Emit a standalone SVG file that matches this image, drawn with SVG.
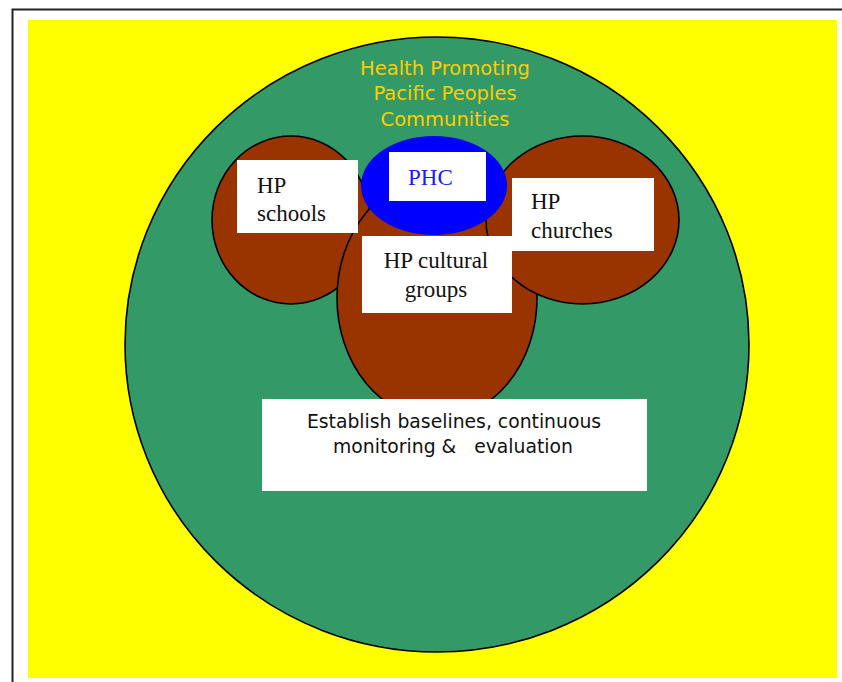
<svg xmlns="http://www.w3.org/2000/svg" width="842" height="682" viewBox="0 0 842 682">
<style>
.bub{fill:#993300;stroke:#000;stroke-width:1.6}
.box{fill:#fff}
.serif{font-family:"Liberation Serif","Times New Roman",serif;font-size:23px;fill:#111}
.sans{font-family:"DejaVu Sans",Verdana,sans-serif;font-size:18.8px;fill:#111}
.title{font-family:"DejaVu Sans",Verdana,sans-serif;font-size:19.5px;fill:#FFCC00;text-anchor:middle}
</style>
<rect width="842" height="682" fill="#fff"/>
<rect x="12.5" y="9.5" width="840" height="690" fill="none" stroke="#222" stroke-width="2"/>
<rect x="28" y="20" width="809" height="658" fill="#FFFF00"/>
<g id="communities">
<ellipse cx="437" cy="344.5" rx="312" ry="307.5" fill="#339966" stroke="#000" stroke-width="1.6"/>
<text class="title" x="445" y="75">Health Promoting</text>
<text class="title" x="445" y="100">Pacific Peoples</text>
<text class="title" x="445" y="126">Communities</text>
</g>
<g id="schools">
<ellipse class="bub" cx="291" cy="220" rx="79" ry="84"/>
</g>
<g id="cultural">
<ellipse class="bub" cx="437" cy="298" rx="100" ry="121"/>
</g>
<g id="churches">
<ellipse class="bub" cx="582.5" cy="220" rx="96.5" ry="84"/>
</g>
<g id="phc">
<ellipse cx="434" cy="185.5" rx="73" ry="49.5" fill="#0000FF"/>
<rect class="box" x="389" y="152" width="97" height="49"/>
<text class="serif" x="408" y="185" fill="#1a1aff" style="fill:#1a1aff">PHC</text>
</g>
<g id="schools-label">
<rect class="box" x="237" y="160" width="121" height="73"/>
<text class="serif" x="257" y="193">HP</text>
<text class="serif" x="257" y="221">schools</text>
</g>
<g id="churches-label">
<rect class="box" x="512" y="178" width="142" height="73"/>
<text class="serif" x="531" y="209">HP</text>
<text class="serif" x="531" y="238">churches</text>
</g>
<g id="cultural-label">
<rect class="box" x="362" y="236" width="150" height="77"/>
<text class="serif" x="436" y="268" text-anchor="middle">HP cultural</text>
<text class="serif" x="436" y="297" text-anchor="middle">groups</text>
</g>
<g id="evaluation">
<rect class="box" x="262" y="399" width="385" height="92"/>
<text class="sans" x="454" y="428" text-anchor="middle">Establish baselines, continuous</text>
<text class="sans" x="453" y="453" text-anchor="middle" style="white-space:pre">monitoring &amp;   evaluation</text>
</g>
<g id="connectors"/>
</svg>
